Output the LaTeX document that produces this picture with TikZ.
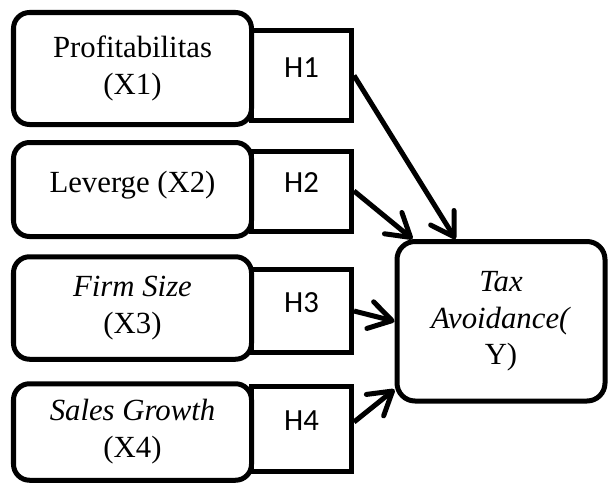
\documentclass[tikz,border=0pt]{standalone}
\usepackage{fontspec}
\setmainfont{Liberation Serif}
\newfontfamily\calibri{Carlito}
\usetikzlibrary{arrows.meta}

\begin{document}
\begin{tikzpicture}
\tikzstyle{var}=[draw,line width=0.1cm,rounded corners=0.32cm,minimum width=4.76cm,align=center,inner sep=0pt,font=\fontsize{17.5}{21}\selectfont]
\tikzstyle{hip}=[draw,line width=0.1cm,minimum width=2cm,text depth=0.32cm,inner sep=0pt,font=\calibri\fontsize{17.5}{21}\selectfont]
\tikzstyle{dep}=[draw,line width=0.1cm,rounded corners=0.36cm,minimum width=4.16cm,minimum height=3.19cm,align=center,inner sep=0pt,font=\fontsize{17.5}{21}\selectfont]
\tikzstyle{panah}=[line width=0.1cm,-{Straight Barb[length=0.45cm,width=0.55cm,round]}]

   \useasboundingbox (0,0) rectangle (12.16,-9.70);

   \path (6.03,-1.51) node[hip,minimum height=1.8cm]  (H1) {H1}
         (6.03,-3.82) node[hip,minimum height=1.6cm]  (H2) {H2}
         (6.03,-6.22) node[hip,minimum height=1.65cm] (H3) {H3}
         (6.03,-8.58) node[hip,minimum height=1.7cm]  (H4) {H4};

   \path (2.65,-1.37) node[var,minimum height=2.24cm] (X1) {Profitabilitas\\(X1)}
         (2.65,-3.79) node[var,minimum height=1.88cm,text depth=0.3cm] (X2) {Leverge (X2)}
         (2.65,-6.16) node[var,minimum height=2.05cm] (X3) {\textit{Firm Size}\\(X3)}
         (2.65,-8.64) node[var,minimum height=1.93cm] (X4) {\textit{Sales Growth}\\(X4)};

   \path (10.02,-6.425) node[dep] (Y) {\textit{Tax}\\\textit{Avoidance(}\\Y)};

    \draw[panah] (H1.east) -- ([xshift=1.22cm]Y.north west);
    \draw[panah] (H2.east) -- ([xshift=0.36cm]Y.north west);
    \draw[panah] (H3.east) -- (Y.west);
    \draw[panah] ([yshift=0.14cm]H4.east) -- ([yshift=0.28cm]Y.south west);
\end{tikzpicture}
\end{document}
